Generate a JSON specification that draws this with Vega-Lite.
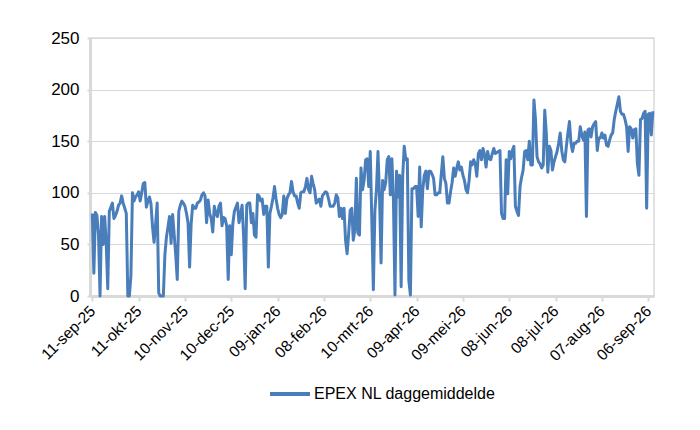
{
  "$schema": "https://vega.github.io/schema/vega-lite/v6.json",
  "width": 564,
  "height": 258,
  "autosize": {"type": "none"},
  "padding": {"left": 90, "top": 38, "right": 46, "bottom": 134},
  "background": "white",
  "data": {"name": "epex"},
  "datasets": {
    "epex": [
      {"d": "2025-09-11", "v": 80}, {"d": "2025-09-12", "v": 22}, {"d": "2025-09-13", "v": 81}, {"d": "2025-09-14", "v": 78},
      {"d": "2025-09-15", "v": 60}, {"d": "2025-09-16", "v": 0}, {"d": "2025-09-17", "v": 77}, {"d": "2025-09-18", "v": 50},
      {"d": "2025-09-19", "v": 77}, {"d": "2025-09-20", "v": 51}, {"d": "2025-09-21", "v": 7}, {"d": "2025-09-22", "v": 82},
      {"d": "2025-09-23", "v": 86}, {"d": "2025-09-24", "v": 90}, {"d": "2025-09-25", "v": 75}, {"d": "2025-09-26", "v": 78},
      {"d": "2025-09-27", "v": 82}, {"d": "2025-09-28", "v": 88}, {"d": "2025-09-29", "v": 90}, {"d": "2025-09-30", "v": 97},
      {"d": "2025-10-01", "v": 90}, {"d": "2025-10-02", "v": 85}, {"d": "2025-10-03", "v": 80}, {"d": "2025-10-04", "v": 0},
      {"d": "2025-10-05", "v": 0}, {"d": "2025-10-06", "v": 20}, {"d": "2025-10-07", "v": 100}, {"d": "2025-10-08", "v": 92},
      {"d": "2025-10-09", "v": 96}, {"d": "2025-10-10", "v": 98}, {"d": "2025-10-11", "v": 101}, {"d": "2025-10-12", "v": 92},
      {"d": "2025-10-13", "v": 100}, {"d": "2025-10-14", "v": 109}, {"d": "2025-10-15", "v": 110}, {"d": "2025-10-16", "v": 86},
      {"d": "2025-10-17", "v": 92}, {"d": "2025-10-18", "v": 96}, {"d": "2025-10-19", "v": 89}, {"d": "2025-10-20", "v": 67},
      {"d": "2025-10-21", "v": 52}, {"d": "2025-10-22", "v": 70}, {"d": "2025-10-23", "v": 90}, {"d": "2025-10-24", "v": 3},
      {"d": "2025-10-25", "v": 0}, {"d": "2025-10-26", "v": 0}, {"d": "2025-10-27", "v": 0}, {"d": "2025-10-28", "v": 40},
      {"d": "2025-10-29", "v": 57}, {"d": "2025-10-30", "v": 67}, {"d": "2025-10-31", "v": 77},
      {"d": "2025-11-01", "v": 51}, {"d": "2025-11-02", "v": 79}, {"d": "2025-11-03", "v": 60}, {"d": "2025-11-04", "v": 40},
      {"d": "2025-11-05", "v": 16}, {"d": "2025-11-06", "v": 82}, {"d": "2025-11-07", "v": 88}, {"d": "2025-11-08", "v": 92},
      {"d": "2025-11-09", "v": 90}, {"d": "2025-11-10", "v": 87}, {"d": "2025-11-11", "v": 80}, {"d": "2025-11-12", "v": 71},
      {"d": "2025-11-13", "v": 28}, {"d": "2025-11-14", "v": 70}, {"d": "2025-11-15", "v": 88}, {"d": "2025-11-16", "v": 85},
      {"d": "2025-11-17", "v": 85}, {"d": "2025-11-18", "v": 90}, {"d": "2025-11-19", "v": 91}, {"d": "2025-11-20", "v": 93},
      {"d": "2025-11-21", "v": 98}, {"d": "2025-11-22", "v": 100}, {"d": "2025-11-23", "v": 97}, {"d": "2025-11-24", "v": 71},
      {"d": "2025-11-25", "v": 93}, {"d": "2025-11-26", "v": 80}, {"d": "2025-11-27", "v": 75}, {"d": "2025-11-28", "v": 62},
      {"d": "2025-11-29", "v": 87}, {"d": "2025-11-30", "v": 80},
      {"d": "2025-12-01", "v": 77}, {"d": "2025-12-02", "v": 87}, {"d": "2025-12-03", "v": 90}, {"d": "2025-12-04", "v": 68},
      {"d": "2025-12-05", "v": 76}, {"d": "2025-12-06", "v": 75}, {"d": "2025-12-07", "v": 68}, {"d": "2025-12-08", "v": 16},
      {"d": "2025-12-09", "v": 68}, {"d": "2025-12-10", "v": 40}, {"d": "2025-12-11", "v": 70}, {"d": "2025-12-12", "v": 82},
      {"d": "2025-12-13", "v": 86}, {"d": "2025-12-14", "v": 90}, {"d": "2025-12-15", "v": 71}, {"d": "2025-12-16", "v": 79},
      {"d": "2025-12-17", "v": 88}, {"d": "2025-12-18", "v": 57}, {"d": "2025-12-19", "v": 7}, {"d": "2025-12-20", "v": 88},
      {"d": "2025-12-21", "v": 90}, {"d": "2025-12-22", "v": 90}, {"d": "2025-12-23", "v": 71}, {"d": "2025-12-24", "v": 80},
      {"d": "2025-12-25", "v": 59}, {"d": "2025-12-26", "v": 57}, {"d": "2025-12-27", "v": 98}, {"d": "2025-12-28", "v": 97},
      {"d": "2025-12-29", "v": 92}, {"d": "2025-12-30", "v": 94}, {"d": "2025-12-31", "v": 79},
      {"d": "2026-01-01", "v": 87}, {"d": "2026-01-02", "v": 87}, {"d": "2026-01-03", "v": 28}, {"d": "2026-01-04", "v": 80},
      {"d": "2026-01-05", "v": 87}, {"d": "2026-01-06", "v": 95}, {"d": "2026-01-07", "v": 106}, {"d": "2026-01-08", "v": 94},
      {"d": "2026-01-09", "v": 85}, {"d": "2026-01-10", "v": 79}, {"d": "2026-01-11", "v": 76}, {"d": "2026-01-12", "v": 79},
      {"d": "2026-01-13", "v": 97}, {"d": "2026-01-14", "v": 80}, {"d": "2026-01-15", "v": 94}, {"d": "2026-01-16", "v": 98},
      {"d": "2026-01-17", "v": 100}, {"d": "2026-01-18", "v": 111}, {"d": "2026-01-19", "v": 101}, {"d": "2026-01-20", "v": 97},
      {"d": "2026-01-21", "v": 97}, {"d": "2026-01-22", "v": 90}, {"d": "2026-01-23", "v": 85}, {"d": "2026-01-24", "v": 100},
      {"d": "2026-01-25", "v": 101}, {"d": "2026-01-26", "v": 101}, {"d": "2026-01-27", "v": 106}, {"d": "2026-01-28", "v": 114},
      {"d": "2026-01-29", "v": 103}, {"d": "2026-01-30", "v": 100}, {"d": "2026-01-31", "v": 116},
      {"d": "2026-02-01", "v": 109}, {"d": "2026-02-02", "v": 103}, {"d": "2026-02-03", "v": 90}, {"d": "2026-02-04", "v": 92},
      {"d": "2026-02-05", "v": 94}, {"d": "2026-02-06", "v": 87}, {"d": "2026-02-07", "v": 97}, {"d": "2026-02-08", "v": 99},
      {"d": "2026-02-09", "v": 101}, {"d": "2026-02-10", "v": 100}, {"d": "2026-02-11", "v": 94}, {"d": "2026-02-12", "v": 87},
      {"d": "2026-02-13", "v": 87}, {"d": "2026-02-14", "v": 87}, {"d": "2026-02-15", "v": 90}, {"d": "2026-02-16", "v": 98},
      {"d": "2026-02-17", "v": 95}, {"d": "2026-02-18", "v": 77}, {"d": "2026-02-19", "v": 85}, {"d": "2026-02-20", "v": 75},
      {"d": "2026-02-21", "v": 85}, {"d": "2026-02-22", "v": 54}, {"d": "2026-02-23", "v": 41}, {"d": "2026-02-24", "v": 60},
      {"d": "2026-02-25", "v": 83}, {"d": "2026-02-26", "v": 85}, {"d": "2026-02-27", "v": 54}, {"d": "2026-02-28", "v": 64},
      {"d": "2026-03-01", "v": 114}, {"d": "2026-03-02", "v": 61}, {"d": "2026-03-03", "v": 59}, {"d": "2026-03-04", "v": 124},
      {"d": "2026-03-05", "v": 103}, {"d": "2026-03-06", "v": 112}, {"d": "2026-03-07", "v": 132}, {"d": "2026-03-08", "v": 133},
      {"d": "2026-03-09", "v": 106}, {"d": "2026-03-10", "v": 140}, {"d": "2026-03-11", "v": 74}, {"d": "2026-03-12", "v": 6},
      {"d": "2026-03-13", "v": 83}, {"d": "2026-03-14", "v": 103}, {"d": "2026-03-15", "v": 140}, {"d": "2026-03-16", "v": 96},
      {"d": "2026-03-17", "v": 32}, {"d": "2026-03-18", "v": 112}, {"d": "2026-03-19", "v": 103}, {"d": "2026-03-20", "v": 110},
      {"d": "2026-03-21", "v": 132}, {"d": "2026-03-22", "v": 135}, {"d": "2026-03-23", "v": 98}, {"d": "2026-03-24", "v": 133},
      {"d": "2026-03-25", "v": 93}, {"d": "2026-03-26", "v": 1}, {"d": "2026-03-27", "v": 121}, {"d": "2026-03-28", "v": 96},
      {"d": "2026-03-29", "v": 117}, {"d": "2026-03-30", "v": 9}, {"d": "2026-03-31", "v": 116},
      {"d": "2026-04-01", "v": 145}, {"d": "2026-04-02", "v": 132}, {"d": "2026-04-03", "v": 133}, {"d": "2026-04-04", "v": 15},
      {"d": "2026-04-05", "v": 1}, {"d": "2026-04-06", "v": 104}, {"d": "2026-04-07", "v": 104}, {"d": "2026-04-08", "v": 106},
      {"d": "2026-04-09", "v": 106}, {"d": "2026-04-10", "v": 77}, {"d": "2026-04-11", "v": 125}, {"d": "2026-04-12", "v": 67},
      {"d": "2026-04-13", "v": 103}, {"d": "2026-04-14", "v": 117}, {"d": "2026-04-15", "v": 121}, {"d": "2026-04-16", "v": 104},
      {"d": "2026-04-17", "v": 121}, {"d": "2026-04-18", "v": 121}, {"d": "2026-04-19", "v": 118}, {"d": "2026-04-20", "v": 114},
      {"d": "2026-04-21", "v": 98}, {"d": "2026-04-22", "v": 98}, {"d": "2026-04-23", "v": 100}, {"d": "2026-04-24", "v": 100},
      {"d": "2026-04-25", "v": 118}, {"d": "2026-04-26", "v": 135}, {"d": "2026-04-27", "v": 114}, {"d": "2026-04-28", "v": 109},
      {"d": "2026-04-29", "v": 90}, {"d": "2026-04-30", "v": 90},
      {"d": "2026-05-01", "v": 101}, {"d": "2026-05-02", "v": 110}, {"d": "2026-05-03", "v": 124}, {"d": "2026-05-04", "v": 116},
      {"d": "2026-05-05", "v": 124}, {"d": "2026-05-06", "v": 130}, {"d": "2026-05-07", "v": 122}, {"d": "2026-05-08", "v": 125},
      {"d": "2026-05-09", "v": 117}, {"d": "2026-05-10", "v": 112}, {"d": "2026-05-11", "v": 103}, {"d": "2026-05-12", "v": 100},
      {"d": "2026-05-13", "v": 112}, {"d": "2026-05-14", "v": 130}, {"d": "2026-05-15", "v": 127}, {"d": "2026-05-16", "v": 132},
      {"d": "2026-05-17", "v": 128}, {"d": "2026-05-18", "v": 116}, {"d": "2026-05-19", "v": 138}, {"d": "2026-05-20", "v": 141},
      {"d": "2026-05-21", "v": 132}, {"d": "2026-05-22", "v": 143}, {"d": "2026-05-23", "v": 137}, {"d": "2026-05-24", "v": 125},
      {"d": "2026-05-25", "v": 140}, {"d": "2026-05-26", "v": 133}, {"d": "2026-05-27", "v": 132}, {"d": "2026-05-28", "v": 138},
      {"d": "2026-05-29", "v": 143}, {"d": "2026-05-30", "v": 138}, {"d": "2026-05-31", "v": 139},
      {"d": "2026-06-01", "v": 140}, {"d": "2026-06-02", "v": 141}, {"d": "2026-06-03", "v": 80}, {"d": "2026-06-04", "v": 75},
      {"d": "2026-06-05", "v": 75}, {"d": "2026-06-06", "v": 132}, {"d": "2026-06-07", "v": 99}, {"d": "2026-06-08", "v": 140},
      {"d": "2026-06-09", "v": 133}, {"d": "2026-06-10", "v": 141}, {"d": "2026-06-11", "v": 145}, {"d": "2026-06-12", "v": 87},
      {"d": "2026-06-13", "v": 82}, {"d": "2026-06-14", "v": 78}, {"d": "2026-06-15", "v": 106}, {"d": "2026-06-16", "v": 115},
      {"d": "2026-06-17", "v": 122}, {"d": "2026-06-18", "v": 140}, {"d": "2026-06-19", "v": 141}, {"d": "2026-06-20", "v": 132},
      {"d": "2026-06-21", "v": 150}, {"d": "2026-06-22", "v": 127}, {"d": "2026-06-23", "v": 127}, {"d": "2026-06-24", "v": 190},
      {"d": "2026-06-25", "v": 171}, {"d": "2026-06-26", "v": 135}, {"d": "2026-06-27", "v": 130}, {"d": "2026-06-28", "v": 128},
      {"d": "2026-06-29", "v": 124}, {"d": "2026-06-30", "v": 127},
      {"d": "2026-07-01", "v": 180}, {"d": "2026-07-02", "v": 158}, {"d": "2026-07-03", "v": 120}, {"d": "2026-07-04", "v": 145},
      {"d": "2026-07-05", "v": 141}, {"d": "2026-07-06", "v": 122}, {"d": "2026-07-07", "v": 130}, {"d": "2026-07-08", "v": 135},
      {"d": "2026-07-09", "v": 140}, {"d": "2026-07-10", "v": 148}, {"d": "2026-07-11", "v": 158}, {"d": "2026-07-12", "v": 141},
      {"d": "2026-07-13", "v": 132}, {"d": "2026-07-14", "v": 130}, {"d": "2026-07-15", "v": 145}, {"d": "2026-07-16", "v": 158},
      {"d": "2026-07-17", "v": 169}, {"d": "2026-07-18", "v": 148}, {"d": "2026-07-19", "v": 140}, {"d": "2026-07-20", "v": 148},
      {"d": "2026-07-21", "v": 148}, {"d": "2026-07-22", "v": 150}, {"d": "2026-07-23", "v": 150}, {"d": "2026-07-24", "v": 164},
      {"d": "2026-07-25", "v": 156}, {"d": "2026-07-26", "v": 151}, {"d": "2026-07-27", "v": 159}, {"d": "2026-07-28", "v": 77},
      {"d": "2026-07-29", "v": 161}, {"d": "2026-07-30", "v": 162}, {"d": "2026-07-31", "v": 154},
      {"d": "2026-08-01", "v": 164}, {"d": "2026-08-02", "v": 167}, {"d": "2026-08-03", "v": 169}, {"d": "2026-08-04", "v": 141},
      {"d": "2026-08-05", "v": 153}, {"d": "2026-08-06", "v": 153}, {"d": "2026-08-07", "v": 158}, {"d": "2026-08-08", "v": 153},
      {"d": "2026-08-09", "v": 156}, {"d": "2026-08-10", "v": 146}, {"d": "2026-08-11", "v": 145}, {"d": "2026-08-12", "v": 151},
      {"d": "2026-08-13", "v": 156}, {"d": "2026-08-14", "v": 158}, {"d": "2026-08-15", "v": 171}, {"d": "2026-08-16", "v": 179},
      {"d": "2026-08-17", "v": 186}, {"d": "2026-08-18", "v": 193}, {"d": "2026-08-19", "v": 179}, {"d": "2026-08-20", "v": 176},
      {"d": "2026-08-21", "v": 176}, {"d": "2026-08-22", "v": 171}, {"d": "2026-08-23", "v": 164}, {"d": "2026-08-24", "v": 140},
      {"d": "2026-08-25", "v": 164}, {"d": "2026-08-26", "v": 162}, {"d": "2026-08-27", "v": 153}, {"d": "2026-08-28", "v": 161},
      {"d": "2026-08-29", "v": 162}, {"d": "2026-08-30", "v": 128}, {"d": "2026-08-31", "v": 117},
      {"d": "2026-09-01", "v": 171}, {"d": "2026-09-02", "v": 172}, {"d": "2026-09-03", "v": 177}, {"d": "2026-09-04", "v": 179},
      {"d": "2026-09-05", "v": 85}, {"d": "2026-09-06", "v": 176}, {"d": "2026-09-07", "v": 177}, {"d": "2026-09-08", "v": 156},
      {"d": "2026-09-09", "v": 179}
    ]
  },
  "mark": {"type": "line", "strokeWidth": 3, "strokeJoin": "round"},
  "encoding": {
    "x": {
      "field": "d",
      "type": "temporal",
      "scale": {
        "type": "utc",
        "domain": [
          {"year": 2025, "month": 9, "date": 9, "hours": 12, "utc": true},
          {"year": 2026, "month": 9, "date": 9, "hours": 18, "utc": true}
        ]
      },
      "axis": {
        "title": null,
        "grid": false,
        "values": [
          {"year": 2025, "month": 9, "date": 11, "utc": true},
          {"year": 2025, "month": 10, "date": 11, "utc": true},
          {"year": 2025, "month": 11, "date": 10, "utc": true},
          {"year": 2025, "month": 12, "date": 10, "utc": true},
          {"year": 2026, "month": 1, "date": 9, "utc": true},
          {"year": 2026, "month": 2, "date": 8, "utc": true},
          {"year": 2026, "month": 3, "date": 10, "utc": true},
          {"year": 2026, "month": 4, "date": 9, "utc": true},
          {"year": 2026, "month": 5, "date": 9, "utc": true},
          {"year": 2026, "month": 6, "date": 8, "utc": true},
          {"year": 2026, "month": 7, "date": 8, "utc": true},
          {"year": 2026, "month": 8, "date": 7, "utc": true},
          {"year": 2026, "month": 9, "date": 6, "utc": true}
        ],
        "labelExpr": "utcFormat(datum.value, '%d') + '-' + ['jan','feb','mrt','apr','mei','jun','jul','aug','sep','okt','nov','dec'][utcmonth(datum.value)] + '-' + utcFormat(datum.value, '%y')",
        "labelAngle": -45,
        "labelAlign": "right",
        "labelBaseline": "middle",
        "labelFontSize": 15.5,
        "labelPadding": 7,
        "tickSize": 5,
        "labelOverlap": false
      }
    },
    "y": {
      "field": "v",
      "type": "quantitative",
      "scale": {"domain": [0, 250], "nice": false},
      "axis": {
        "title": null,
        "values": [0, 50, 100, 150, 200, 250],
        "grid": true,
        "labelFontSize": 17,
        "labelPadding": 8,
        "tickSize": 3
      }
    },
    "color": {
      "datum": "EPEX NL daggemiddelde",
      "type": "nominal",
      "scale": {"range": ["#4a7ebb"]},
      "legend": {
        "title": null,
        "orient": "none",
        "legendX": 178,
        "legendY": 334,
        "padding": 0,
        "symbolType": "stroke",
        "symbolSize": 1600,
        "symbolStrokeWidth": 4,
        "labelFontSize": 16,
        "labelOffset": 2,
        "labelLimit": 400,
        "labelColor": "#000000"
      }
    }
  },
  "config": {
    "font": "Liberation Sans",
    "view": {"stroke": "#d9d9d9", "strokeWidth": 1.5},
    "axis": {
      "domainColor": "#d9d9d9",
      "domainWidth": 3,
      "gridColor": "#d9d9d9",
      "gridWidth": 1,
      "tickColor": "#d9d9d9",
      "tickWidth": 2,
      "labelColor": "#000000",
      "labelFont": "Liberation Sans"
    },
    "legend": {"labelFont": "Liberation Sans"}
  }
}
